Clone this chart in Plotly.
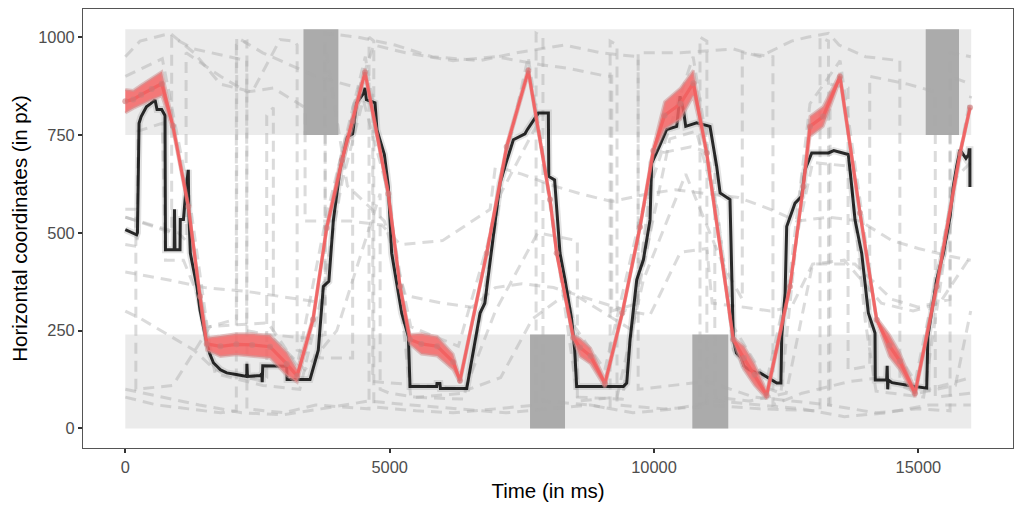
import plotly.graph_objects as go

# ---------------- data ----------------
# Areas of interest (value bands) and highlighted time windows
time_span = [0, 16000]
aoi_top = [750, 1020]
aoi_bottom = [0, 240]
highlight_top = [[3370, 4030], [15139, 15769]]
highlight_bottom = [[7655, 8317], [10725, 11405]]

# Red mean trajectory (upper / lower edges of the red band)
red_t = [0, 150, 300, 500, 690, 900, 1192, 1413, 1540, 1800, 2100, 2400, 2737, 3053, 3250,
         3551, 3809, 4100, 4300, 4534, 4975, 5196, 5385, 5600, 5900, 6200, 6331, 6836, 7214,
         7623, 8033, 8159, 8474, 8600, 8800, 9073, 9400, 9735, 9987, 10200, 10500, 10743,
         10996, 11500, 11700, 11900, 12131, 12573, 12824, 12951, 13200, 13518, 13896, 14212,
         14450, 14650, 14937, 15347, 15788, 15977]
red_hi = [866, 864, 878, 895, 912, 785, 575, 345, 232, 236, 242, 242, 238, 195, 150,
          285, 520, 700, 800, 920, 605, 368, 240, 242, 235, 190, 130, 452, 728,
          923, 590, 452, 238, 230, 205, 125, 300, 520, 720, 835, 870, 915,
          710, 232, 210, 165, 95, 368, 625, 798, 823, 908, 556, 283,
          240, 193, 100, 368, 708, 825]
red_lo = [806, 818, 828, 840, 850, 762, 560, 330, 200, 184, 188, 185, 180, 135, 118,
          272, 505, 672, 772, 900, 595, 358, 215, 190, 185, 150, 115, 444, 712,
          905, 580, 444, 225, 184, 165, 105, 290, 510, 700, 765, 790, 850,
          698, 222, 150, 110, 75, 358, 612, 746, 772, 890, 545, 272,
          184, 150, 80, 358, 698, 815]

# Black single trajectory
blk_t = [0, 215, 230, 260, 300, 400, 480, 562, 600, 688, 751, 760, 925, 930, 940, 1035, 1040,
         1100, 1140, 1192, 1200, 1230, 1300, 1354, 1413, 1500, 1540, 1600, 1667, 1800, 1919,
         2100, 2297, 2300, 2310, 2550, 2581, 2590, 2600, 3053, 3060, 3494, 3550, 3650, 3746,
         3850, 3936, 4062, 4200, 4300, 4376, 4500, 4534, 4560, 4723, 4760, 4900, 4975, 5038,
         5150, 5228, 5354, 5385, 5889, 5895, 5950, 5960, 6458, 6584, 6710, 6800, 6899, 6993,
         7088, 7200, 7340, 7560, 7600, 7812, 8002, 8010, 8120, 8222, 8317, 8443, 8500, 8537,
         9421, 9484, 9547, 9673, 9799, 9925, 9956, 10100, 10240, 10429, 10492, 10555, 10600,
         10807, 11059, 11185, 11250, 11437, 11500, 11560, 11650, 11700, 11800, 11941, 12006,
         12321, 12400, 12416, 12480, 12510, 12668, 12794, 12857, 12983, 13300, 13400, 13676,
         13739, 13802, 13928, 14054, 14180, 14185, 14400, 14410, 14420, 14430, 14500, 14700,
         14937, 15158, 15180, 15347, 15473, 15599, 15662, 15725, 15788, 15900, 15950, 15960,
         15975, 15975]
blk_v = [508, 495, 500, 780, 797, 822, 830, 840, 815, 815, 800, 457, 457, 560, 457, 457, 534,
         534, 600, 661, 560, 448, 400, 363, 303, 240, 218, 190, 168, 150, 142,
         138, 133, 165, 133, 135, 140, 118, 160, 159, 125, 125, 150, 200, 363,
         376, 533, 661, 745, 753, 832, 855, 870, 840, 832, 763, 700, 619, 448,
         360, 295, 235, 107, 107, 115, 115, 102, 102, 201, 295, 320, 423, 533,
         627, 678, 738, 753, 763, 806, 806, 644, 635, 448, 380, 278, 200, 107,
         107, 116, 227, 380, 431, 533, 678, 720, 764, 772, 849, 815, 772,
         781, 772, 670, 602, 585, 227, 193, 180, 160, 150, 142, 142,
         116, 116, 235, 346, 516, 576, 593, 661, 704, 704, 710, 700,
         619, 533, 448, 295, 244, 124, 124, 160, 100, 124, 117, 112,
         107, 103, 235, 380, 448, 541, 619, 670, 712, 690, 700, 712,
         712, 617]

# Grey dashed individual trajectories
g1_t = [0, 700, 1200, 1550, 2700, 3250, 3800, 4540, 5200, 5400, 6300, 6850, 7620, 8160, 8500,
        9070, 9740, 10740, 11000, 11500, 12130, 12570, 12950, 13520, 13900, 14200, 14940,
        15350, 15990]
g1_v = [900, 945, 600, 260, 270, 160, 540, 950, 390, 260, 210, 470, 950, 470, 260,
        150, 540, 950, 730, 260, 120, 390, 830, 940, 580, 280, 120, 390, 850]
g2_t = [0, 220, 240, 700, 760, 1100, 1400, 1700, 2600, 3300, 3700, 4100, 4500, 5000, 5400,
        6400, 6700, 7100, 7800, 8200, 8550, 9400, 9700, 10300, 10800, 11200, 11500, 12000,
        12400, 12700, 13000, 13700, 14000, 14200, 15100, 15400, 15700, 15990]
g2_v = [470, 465, 760, 780, 430, 430, 330, 140, 110, 100, 330, 630, 840, 590, 80,
        75, 270, 600, 780, 420, 80, 75, 350, 740, 760, 560, 200, 110,
        90, 490, 680, 670, 270, 95, 80, 350, 640, 680]
g3_t = [0, 600, 1200, 1800, 2100, 2100, 2300, 2300, 3000, 3600, 4610, 4610, 4700, 4700, 5500,
        6200, 7000, 7770, 7770, 7900, 7900, 8800, 9170, 9170, 9300, 9300, 10200, 10870, 10870,
        11000, 11000, 12000, 13140, 13140, 13300, 13300, 14200, 15000, 15600, 15600, 15990]
g3_v = [80, 60, 50, 40, 45, 980, 990, 50, 40, 60, 50, 1000, 990, 55, 45,
        40, 50, 60, 1010, 1000, 70, 60, 50, 990, 980, 60, 50, 55, 1000,
        990, 60, 50, 45, 1000, 990, 60, 40, 50, 45, 960, 950]
g4_t = [0, 800, 1500, 2300, 3300, 3780, 3780, 4200, 4900, 5300, 6000, 6560, 7000, 7500, 8100,
        8800, 9500, 9925, 10500, 11000, 11100, 11700, 12200, 12600, 13000, 13600, 14300, 14900,
        15400, 15990]
g4_v = [400, 380, 360, 350, 330, 320, 980, 620, 530, 340, 320, 310, 360, 370, 360,
        330, 300, 290, 450, 460, 320, 310, 300, 310, 420, 430, 320, 300, 320, 440]
g5_t = [0, 500, 1000, 1150, 1150, 1800, 2300, 2800, 3400, 3400, 4250, 4850, 5200, 6000, 6900,
        7000, 7500, 8100, 8600, 9200, 9900, 10400, 11000, 11600, 12200, 12700, 13300, 13900,
        14500, 15000, 15600, 15990]
g5_v = [540, 520, 500, 480, 960, 900, 860, 870, 820, 530, 530, 520, 470, 480, 560,
        670, 650, 620, 600, 580, 600, 610, 600, 590, 560, 530, 540, 530,
        480, 460, 440, 430]
g6_t = [0, 280, 850, 1300, 1800, 2400, 2926, 3200, 3250, 3250, 3700, 4300, 4300, 4700, 5300,
        6200, 7000, 7840, 8400, 9110, 9200, 9200, 9700, 9700, 10500, 11500, 12000, 12600, 12900,
        13300, 13500, 14000, 14650, 14650, 15200, 15990]
g6_v = [950, 990, 1010, 960, 880, 860, 994, 990, 980, 200, 180, 180, 820, 980, 960,
        940, 950, 930, 920, 900, 900, 300, 320, 960, 960, 970, 950, 990, 1000,
        1010, 980, 950, 940, 120, 100, 130]
g7_t = [0, 700, 1400, 2200, 3000, 3700, 4600, 5400, 6300, 7200, 8000, 8800, 9600, 10400,
        11200, 12000, 12800, 13600, 14400, 15200, 15990]
g7_v = [100, 80, 60, 40, 35, 50, 70, 60, 50, 40, 50, 60, 40, 50, 70, 60, 50, 30, 40, 60, 60]
g8_t = [0, 300, 1300, 1700, 2600, 2675, 2675, 2800, 2800, 3400, 4000, 4820, 4820, 5000, 5500,
        6400, 7000, 7800, 8550, 8550, 9300, 9800, 10600, 11300, 11670, 11670, 12250, 12250,
        12800, 13700, 14300, 15000, 15700, 15990]
g8_v = [300, 280, 200, 150, 120, 130, 800, 820, 230, 150, 250, 600, 100, 90, 80,
        90, 300, 500, 480, 70, 80, 380, 650, 420, 330, 960, 950, 60,
        90, 120, 130, 90, 110, 300]
g9_t = [0, 877, 877, 1300, 2296, 2296, 2700, 3500, 3780, 3780, 4400, 5100, 5800, 6700, 7400,
        8300, 9000, 9700, 9700, 10300, 11000, 11900, 12600, 13330, 13330, 13670, 13670, 14080,
        14080, 14800, 15320, 15320, 15990]
g9_v = [540, 500, 1000, 970, 940, 250, 240, 230, 240, 1010, 1000, 980, 950, 940, 960,
        980, 960, 950, 100, 110, 120, 80, 70, 60, 880, 870, 150, 160,
        900, 880, 860, 80, 90]
g10_t = [0, 200, 200, 900, 1600, 2107, 2107, 2600, 3600, 4400, 4680, 4680, 5600, 6500, 7100,
         7700, 8400, 9000, 9600, 10000, 10700, 11150, 11150, 11800, 12500, 13000, 13800, 14500,
         15000, 15600, 15600, 15990]
g10_v = [560, 560, 100, 110, 260, 280, 1000, 960, 900, 870, 860, 120, 110, 100, 130,
         280, 350, 300, 250, 700, 720, 700, 80, 70, 90, 420, 420, 330,
         310, 330, 900, 880]

grey_series = [(g1_t, g1_v), (g2_t, g2_v), (g3_t, g3_v), (g4_t, g4_v), (g5_t, g5_v),
               (g6_t, g6_v), (g7_t, g7_v), (g8_t, g8_v), (g9_t, g9_v), (g10_t, g10_v)]

x_ticks = [0, 5000, 10000, 15000]
y_ticks = [0, 250, 500, 750, 1000]

# ---------------- figure ----------------
fig = go.Figure()

shapes = []
for y0, y1 in (aoi_top, aoi_bottom):
    shapes.append(dict(type="rect", xref="x", yref="y", x0=time_span[0], x1=time_span[1],
                       y0=y0, y1=y1, fillcolor="#ebebeb", line=dict(width=0), layer="below"))
for x0, x1 in highlight_top:
    shapes.append(dict(type="rect", xref="x", yref="y", x0=x0, x1=x1, y0=aoi_top[0],
                       y1=aoi_top[1], fillcolor="#ababab", line=dict(width=0), layer="below"))
for x0, x1 in highlight_bottom:
    shapes.append(dict(type="rect", xref="x", yref="y", x0=x0, x1=x1, y0=aoi_bottom[0],
                       y1=aoi_bottom[1], fillcolor="#ababab", line=dict(width=0), layer="below"))

for t, v in grey_series:
    fig.add_trace(go.Scatter(x=t, y=v, mode="lines",
                             line=dict(color="rgba(170,170,170,0.42)", width=3, dash="11px,7px"),
                             hoverinfo="skip", showlegend=False))

# halo under black line
fig.add_trace(go.Scatter(x=blk_t, y=blk_v, mode="lines",
                         line=dict(color="rgba(160,160,160,0.3)", width=7),
                         hoverinfo="skip", showlegend=False))
fig.add_trace(go.Scatter(x=blk_t, y=blk_v, mode="lines",
                         line=dict(color="rgba(0,0,0,0.82)", width=3),
                         showlegend=False))

# red band
fig.add_trace(go.Scatter(x=red_t + red_t[::-1], y=red_hi + red_lo[::-1], mode="lines",
                         fill="toself", fillcolor="rgba(245,100,100,0.85)",
                         line=dict(color="rgba(205,150,150,0.55)", width=3),
                         hoverinfo="skip", showlegend=False))
red_mid = [(a + b) / 2 for a, b in zip(red_hi, red_lo)]
fig.add_trace(go.Scatter(x=red_t, y=red_mid, mode="lines+markers",
                         line=dict(color="rgba(242,95,95,0.9)", width=3.2),
                         marker=dict(size=6, color="rgba(205,120,120,0.6)"),
                         showlegend=False))

axis_common = dict(showgrid=False, zeroline=False, showline=True, mirror=True,
                   linecolor="#555555", linewidth=1, ticks="outside", ticklen=4,
                   tickwidth=1.5, tickcolor="#333333", automargin=False,
                   tickfont=dict(family="Liberation Sans, Arial", size=16.4, color="#4d4d4d"))

fig.update_xaxes(range=[-800, 16790], tickvals=x_ticks, ticktext=[str(v) for v in x_ticks],
                 title=dict(text="Time (in ms)", standoff=8,
                            font=dict(family="Liberation Sans, Arial", size=20.5, color="black")),
                 **axis_common)
fig.update_yaxes(range=[-50, 1072], tickvals=y_ticks, ticktext=[str(v) for v in y_ticks],
                 title=dict(text="Horizontal coordinates (in px)", standoff=6,
                            font=dict(family="Liberation Sans, Arial", size=20.5, color="black")),
                 **axis_common)

# page body has an 8px margin: size the figure so the panel lands where the reference has it
fig.update_layout(width=1016, height=504, shapes=shapes,
                  margin=dict(l=75, r=11, t=1, b=64, autoexpand=False),
                  plot_bgcolor="white", paper_bgcolor="white", showlegend=False)

fig.write_html("out.html")
